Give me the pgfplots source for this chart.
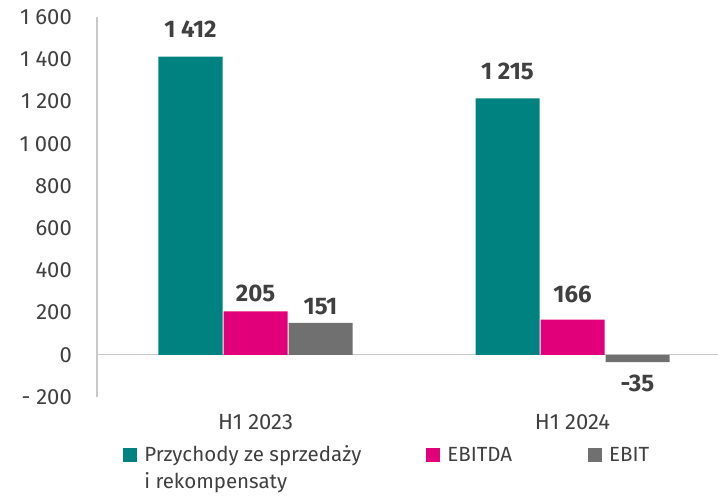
\documentclass[border=0pt]{standalone}
\usepackage{fontspec}
\setmainfont{Fira Sans}
\usepackage{pgfplots}
\pgfplotsset{compat=1.18}
\definecolor{teal1}{HTML}{008280}
\definecolor{mag}{HTML}{E2007A}
\definecolor{gry}{HTML}{707070}
\definecolor{txt}{HTML}{404040}
\definecolor{axl}{HTML}{C8C8C8}
\protected\def\lab#1#2{\raisebox{#1}[0pt][0pt]{#2}}
\begin{document}
\fontsize{21}{27}\selectfont
\begin{tikzpicture}[x=1pt,y=1pt]
\useasboundingbox (0,0) rectangle (718,498);
\begin{axis}[
  at={(97pt,101pt)}, anchor=south west,
  scale only axis, width=621pt, height=380pt,
  xmin=-0.5, xmax=1.459, ymin=-200, ymax=1600,
  ytick={-200,0,200,400,600,800,1000,1200,1400,1600},
  yticklabels={- 200,0,200,400,600,800,1 000,1 200,1 400,1 600},
  xtick={0,1}, xticklabels={H1 2023,H1 2024},
  major tick length=0pt,
  axis x line*=bottom, axis y line*=left,
  x axis line style={draw=none},
  y axis line style={draw=axl, line width=1.2pt, -},
  tick label style={text=txt, font=\fontsize{22}{27}\selectfont},
  yticklabel style={inner xsep=0pt, xshift=-25pt},
  xticklabel style={inner ysep=0pt, yshift=-17pt},
  extra y ticks={0}, extra y tick labels={},
  extra y tick style={grid=major, major grid style={draw=axl, line width=1.2pt}},
  ybar=1pt, bar width=64pt,
  point meta=explicit symbolic,
  nodes near coords,
  nodes near coords style={font=\fontsize{24}{27}\selectfont\bfseries, text=txt, inner sep=0pt},
  every axis plot post/.append style={legend image code/.code={\fill[##1] (0pt,-0.5pt) rectangle (14pt,13.5pt);}},
  legend columns=3,
  legend style={draw=none, fill=none, at={(0.042,-0.12)}, anchor=north west, inner sep=0pt,
    font=\fontsize{20.5}{27}\selectfont,
    cells={anchor=base west},
    /tikz/every odd column/.append style={column sep=7pt},
    /tikz/column 2/.style={column sep=65pt},
    /tikz/column 4/.style={column sep=76pt},
    nodes={inner sep=0pt, text=txt}},
]
\addplot[fill=teal1, draw=none] coordinates {(0,1412) [\lab{18pt}{1 412}] (1,1215) [\lab{18pt}{1 215}]};
\addlegendentry{\begin{tabular}[t]{@{}l@{}}Przychody ze sprzedaży\\i rekompensaty\end{tabular}}
\addplot[fill=mag, draw=none] coordinates {(0,205) [\lab{9.4pt}{205}] (1,166) [\lab{16.7pt}{166}]};
\addlegendentry{EBITDA}
\addplot[fill=gry, draw=none] coordinates {(0,151) [\lab{7.6pt}{151}] (1,-35) [\lab{-30pt}{-35}]};
\addlegendentry{EBIT}
\end{axis}
\end{tikzpicture}
\end{document}
